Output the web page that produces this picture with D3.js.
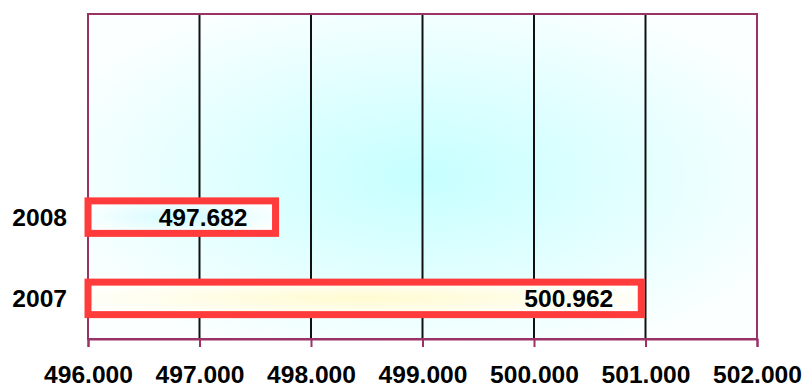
<!DOCTYPE html>
<html>
<head>
<meta charset="utf-8">
<script src="https://cdn.jsdelivr.net/npm/d3@7"></script>
<style>
  html, body { margin: 0; padding: 0; background: #fff; }
  text { font-family: Arial, "Liberation Sans", sans-serif; font-weight: bold; fill: #000; }
</style>
</head>
<body>
<svg id="chart"></svg>
<script>
const WIDTH = 806;
const HEIGHT = 385;

// chart values
const categories = ['2008', '2007'];
const values = [497.682, 500.962];
const barCenters = ['#d2fbff', '#fffbd0'];
const xTicks = [496, 497, 498, 499, 500, 501, 502];
// the value axis holds two empty slots above the bars
const ySlots = ['slot1', 'slot2', ...categories];

const plot = { left: 88, right: 757, top: 14, bottom: 339 };
const FRAME = '#993366';
const FONT_SIZE = 24.6;

const svg = d3.select('#chart')
  .attr('width', WIDTH)
  .attr('height', HEIGHT);

const x = d3.scaleLinear()
  .domain([xTicks[0], xTicks[xTicks.length - 1]])
  .range([plot.left, plot.right]);

const y = d3.scaleBand()
  .domain(ySlots)
  .range([plot.top, plot.bottom])
  .paddingInner(0.6)
  .paddingOuter(0.3);

const defs = svg.append('defs');

const bg = defs.append('radialGradient')
  .attr('id', 'bg-grad')
  .attr('cx', 0.5).attr('cy', 0.5).attr('r', 0.6);
bg.append('stop').attr('offset', 0).attr('stop-color', '#c6ffff');
bg.append('stop').attr('offset', 1).attr('stop-color', '#fcffff');

categories.forEach((cat, i) => {
  const g = defs.append('radialGradient')
    .attr('id', `bar-grad-${i}`)
    .attr('cx', 0.5).attr('cy', 0.5).attr('r', 0.6);
  g.append('stop').attr('offset', 0).attr('stop-color', barCenters[i]);
  g.append('stop').attr('offset', 1).attr('stop-color', '#ffffff');
});

// plot area background
svg.append('rect')
  .attr('x', plot.left)
  .attr('y', plot.top)
  .attr('width', plot.right - plot.left)
  .attr('height', plot.bottom - plot.top)
  .attr('fill', 'url(#bg-grad)');

// vertical gridlines
svg.append('g')
  .selectAll('line')
  .data(xTicks.slice(1, -1))
  .enter()
  .append('line')
  .attr('x1', d => x(d))
  .attr('x2', d => x(d))
  .attr('y1', plot.top)
  .attr('y2', plot.bottom)
  .attr('stroke', '#111')
  .attr('stroke-width', 2);

// frame
svg.append('rect')
  .attr('x', plot.left)
  .attr('y', plot.top)
  .attr('width', plot.right - plot.left)
  .attr('height', plot.bottom - plot.top)
  .attr('fill', 'none')
  .attr('stroke', FRAME)
  .attr('stroke-width', 2);

// bars
svg.append('g')
  .selectAll('rect')
  .data(values)
  .enter()
  .append('rect')
  .attr('x', x(xTicks[0]))
  .attr('y', (d, i) => y(categories[i]))
  .attr('width', d => x(d) - x(xTicks[0]))
  .attr('height', y.bandwidth())
  .attr('fill', (d, i) => `url(#bar-grad-${i})`)
  .attr('stroke', '#ff3b3b')
  .attr('stroke-width', 7);

// value labels
svg.append('g')
  .selectAll('text')
  .data(values)
  .enter()
  .append('text')
  .attr('x', d => x(d) - 28)
  .attr('y', (d, i) => y(categories[i]) + y.bandwidth() / 2)
  .attr('dy', '0.36em')
  .attr('text-anchor', 'end')
  .attr('font-size', FONT_SIZE)
  .text(d => d3.format('.3f')(d));

// x axis
const xAxis = svg.append('g')
  .attr('transform', `translate(0,${plot.bottom})`)
  .call(d3.axisBottom(x)
    .tickValues(xTicks)
    .tickFormat(d3.format('.3f'))
    .tickSize(8)
    .tickPadding(19));
xAxis.select('.domain').attr('stroke', FRAME).attr('stroke-width', 2);
xAxis.selectAll('.tick line').attr('stroke', FRAME).attr('stroke-width', 2);
xAxis.selectAll('.tick text')
  .attr('font-size', FONT_SIZE)
  .attr('font-family', 'Arial, "Liberation Sans", sans-serif')
  .attr('font-weight', 'bold')
  .attr('fill', '#000');

// category labels
svg.append('g')
  .selectAll('text')
  .data(categories)
  .enter()
  .append('text')
  .attr('x', plot.left - 21)
  .attr('y', d => y(d) + y.bandwidth() / 2)
  .attr('dy', '0.36em')
  .attr('text-anchor', 'end')
  .attr('font-size', FONT_SIZE)
  .text(d => d);
</script>
</body>
</html>
